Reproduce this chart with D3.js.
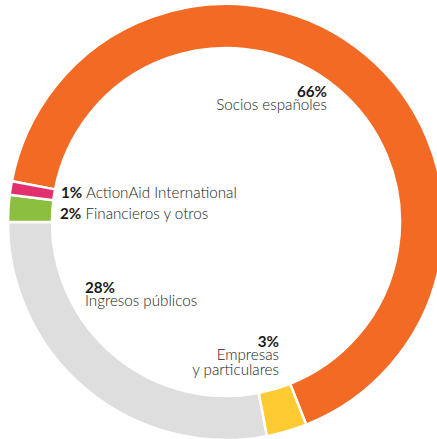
<!DOCTYPE html>
<html>
<head>
<meta charset="utf-8">
<script src="https://cdn.jsdelivr.net/npm/d3@7"></script>
<style>
  html, body { margin: 0; padding: 0; background: #fff; }
  svg { display: block; }
  text { font-family: "Lato", "Open Sans", sans-serif; fill: #1a1a1a; }
</style>
</head>
<body>
<svg id="chart" width="437" height="439"></svg>
<script>
// ---- data ----
const categories = ["Socios españoles", "Empresas\ny particulares", "Ingresos públicos", "Financieros y otros", "ActionAid International"];
const values = [66, 3, 28, 2, 1];
const pctLabels = ["66%", "3%", "28%", "2%", "1%"];
const colors = ["#F26A24", "#FFCB33", "#DEDEDF", "#8CBF3F", "#E2306F"];

// ---- layout ----
const W = 437, H = 439;
const cx = 226, cy = 222, R = 218, r = 174;
const startDeg = -79.2;
// label layout
const labelLayout = [
  {x: 327, y: 97, anchor: "end", inline: false},
  {x: 279, y: 347, anchor: "end", inline: false},
  {x: 85, y: 293, anchor: "start", inline: false},
  {x: 60, y: 219, anchor: "start", inline: true},
  {x: 61, y: 198, anchor: "start", inline: true}
];

const svg = d3.select("#chart");
const g = svg.append("g").attr("transform", `translate(${cx},${cy})`);

const pie = d3.pie().sort(null).value(d => d)
  .startAngle(startDeg * Math.PI / 180)
  .endAngle((startDeg + 360) * Math.PI / 180);
const arc = d3.arc().innerRadius(r).outerRadius(R);

g.selectAll("path").data(pie(values)).join("path")
  .attr("d", arc)
  .attr("fill", (d, i) => colors[i])
  .attr("stroke", "#fff")
  .attr("stroke-width", 2.5);

const fs = 15.2;
labelLayout.forEach((L, i) => {
  const t = svg.append("text")
    .attr("x", L.x).attr("y", L.y)
    .attr("text-anchor", L.anchor)
    .style("font-size", fs + "px");
  if (L.inline) {
    t.append("tspan").attr("font-weight", 700).text(pctLabels[i]);
    t.append("tspan").attr("font-weight", 300).text(" " + categories[i]);
  } else {
    t.append("tspan").attr("x", L.x).attr("font-weight", 700).text(pctLabels[i]);
    categories[i].split("\n").forEach((line, k) => {
      t.append("tspan").attr("x", L.x).attr("dy", k === 0 ? 13 : 15)
        .attr("font-weight", 300).text(line);
    });
  }
});
</script>
</body>
</html>
